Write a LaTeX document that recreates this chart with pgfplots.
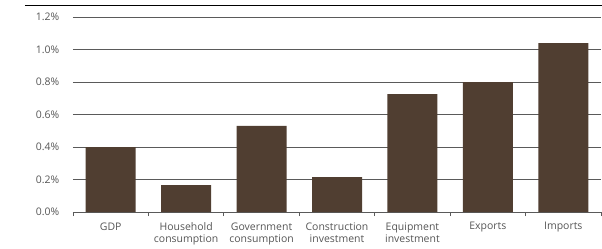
\documentclass[border=0pt]{standalone}
\usepackage{fontspec}
\setmainfont{Open Sans}
\usepackage{pgfplots}
\pgfplotsset{compat=1.18}
\definecolor{barbrown}{RGB}{80,62,49}
\definecolor{gridgray}{RGB}{90,90,90}
\definecolor{txtgray}{RGB}{85,85,85}
\begin{document}
\begin{tikzpicture}[x=1bp,y=1bp]
\useasboundingbox (-73,-36) rectangle (529,212);
\begin{axis}[
  at={(0,0)}, anchor=south west,
  scale only axis, width=528bp, height=195bp,
  xmin=-0.5, xmax=6.5, ymin=0, ymax=1.2,
  axis x line*=bottom, axis y line*=left,
  x axis line style={draw=gridgray, line width=0.8pt, -},
  y axis line style={draw=none},
  xtick={0,1,2,3,4,5,6},
  xticklabels={GDP,{Household\\consumption},{Government\\consumption},{Construction\\investment},{Equipment\\investment},Exports,Imports},
  x tick label style={align=center, anchor=north, font=\fontsize{10.5}{12.5}\selectfont, text=txtgray, inner sep=0pt, yshift=-6bp},
  major x tick style={draw=none},
  minor xtick={-0.5,0.5,1.5,2.5,3.5,4.5,5.5,6.5},
  minor x tick style={draw=gridgray, line width=0.8pt},
  tick align=outside, minor tick length=4bp,
  ytick={0,0.2,0.4,0.6,0.8,1.0,1.2},
  yticklabel={\pgfmathprintnumber[fixed,fixed zerofill,precision=1]{\tick}\%},
  /pgf/number format/assume math mode=true,
  y tick label style={font=\fontsize{10.5}{12}\selectfont, text=txtgray, anchor=east, xshift=-6bp},
  ymajorgrids, grid style={draw=gridgray, line width=0.8pt},
  major y tick style={draw=none},
  ybar, bar width=50bp,
  clip=false,
]
\addplot[fill=barbrown, draw=none] coordinates {(0,0.40) (1,0.166) (2,0.53) (3,0.215) (4,0.726) (5,0.80) (6,1.04)};
\end{axis}
\draw[black, line width=1pt] (-48,207) -- (529,207);
\end{tikzpicture}
\end{document}
